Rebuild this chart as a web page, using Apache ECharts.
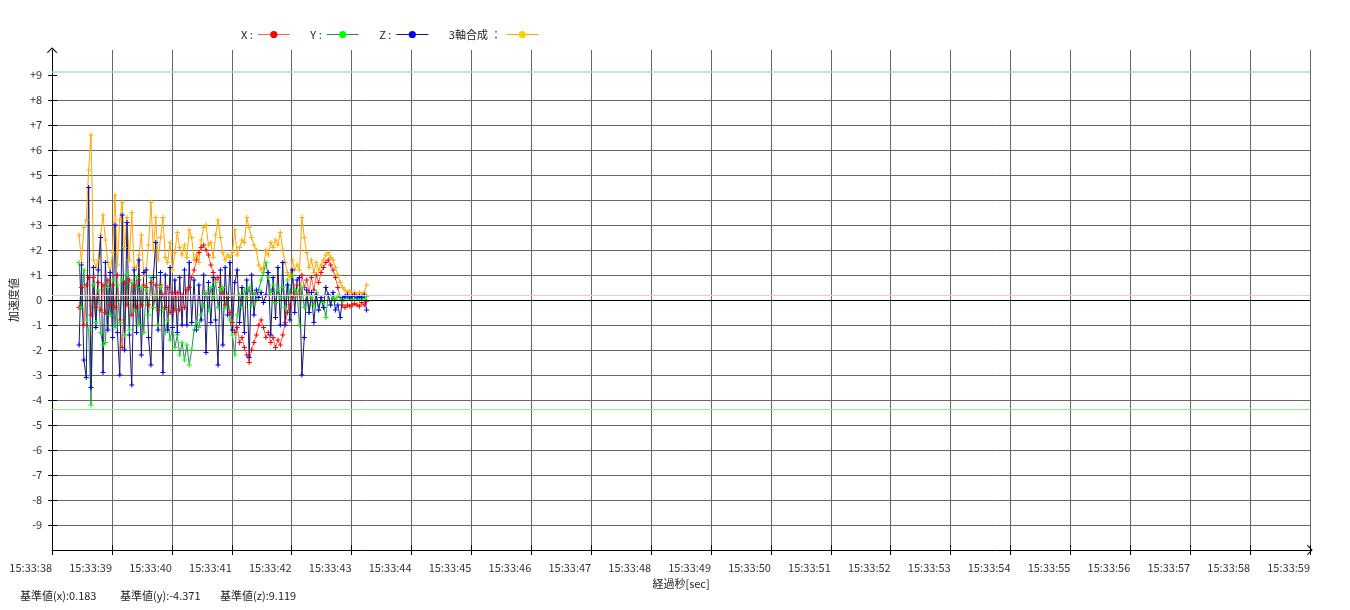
<!DOCTYPE html>
<html>
<head>
<meta charset="utf-8">
<script src="https://cdn.jsdelivr.net/npm/echarts@6/dist/echarts.min.js"></script>
<style>
html,body{margin:0;padding:0;background:#fff;}
#chart{width:1350px;height:610px;}
</style>
</head>
<body>
<div id="chart"></div>
<script>
// ---- data ----
const seriesNames = ['X', 'Y', 'Z', '3軸合成'];
const xTickLabels = ['15:33:38','15:33:39','15:33:40','15:33:41','15:33:42','15:33:43','15:33:44','15:33:45','15:33:46','15:33:47','15:33:48','15:33:49','15:33:50','15:33:51','15:33:52','15:33:53','15:33:54','15:33:55','15:33:56','15:33:57','15:33:58','15:33:59'];
const yTickValues = [-9,-8,-7,-6,-5,-4,-3,-2,-1,0,1,2,3,4,5,6,7,8,9];
const yTickLabels = ['-9','-8','-7','-6','-5','-4','-3','-2','-1','0','+1','+2','+3','+4','+5','+6','+7','+8','+9'];
const startSec = 0.45;   // first sample, seconds after 15:33:38
const sampleStep = 0.04; // seconds between samples
const baseX = 0.183, baseY = -4.371, baseZ = 9.119;

const valuesX = [
 -0.3,0.5,-1.0,0.6,0.9,-0.6,0.9,-0.3,0.7,-0.4,0.6,-0.5,0.8,-0.2,0.6,-0.3,1.0,-0.8,-1.9,0.7,-0.2,0.8,-0.6,0.6,-0.3,0.8,-0.2,0.6,
 0.5,-0.2,0.7,-0.3,0.6,-0.4,0.6,0.2,-0.3,0.5,-0.5,0.3,-0.4,0.3,-0.4,0.2,-0.3,0.4,0.5,0.9,1.2,1.6,1.9,2.1,2.2,2.0,1.8,1.4,1.1,0.8,0.9,0.5,
 0.3,-0.2,0.1,-0.5,-0.9,-1.3,-1.1,-1.7,-1.5,-1.9,-2.2,-2.5,-2.0,-1.7,-1.4,-1.0,-0.8,-1.1,-1.5,-1.3,-1.7,-1.5,-1.9,-1.6,-1.8,-1.4,-0.9,-0.5,-0.2,0.1,0.3,
 0.6,0.2,1.0,0.5,0.8,0.3,0.9,0.4,1.0,0.7,1.1,1.3,1.5,1.6,1.4,1.2,0.9,0.5,0.1,-0.2,-0.3,-0.2,-0.25,-0.2,-0.15,-0.2,-0.25,-0.1,-0.2,-0.05
];
const valuesY = [
 1.5,-0.3,1.2,-0.8,-1.2,-4.2,0.6,-0.9,0.4,-1.3,-1.8,-1.7,0.5,-0.6,0.8,-1.1,0.6,-0.9,0.8,-1.4,1.0,-1.2,0.7,-0.4,0.9,-1.0,0.5,-1.3,
 0.4,-0.6,0.9,-0.3,0.2,-1.0,0.5,-0.4,-1.3,-0.8,-1.6,-1.1,-1.9,-1.4,-2.2,-1.7,-2.4,-1.8,-2.6,-2.0,-1.2,-0.9,-1.1,-0.6,-0.2,0.3,-0.4,0.5,0.1,0.7,-0.3,0.4,
 0.5,-0.3,0.2,-0.8,-1.4,-2.2,-0.6,0.2,-0.3,0.4,0.1,0.5,-0.2,0.3,0.0,0.4,0.8,1.1,1.5,0.9,0.3,0.6,-0.1,0.4,0.1,0.5,-0.3,0.8,0.2,1.0,0.4,
 0.3,-1.0,0.5,-0.3,0.2,-0.5,0.1,-0.2,0.3,-0.4,0.1,-0.1,-0.7,0.2,-0.2,0.1,0.0,0.15,0.1,-0.05,0.1,0.05,0.1,0.0,0.05,0.1,0.0,0.05,0.1,0.15
];
const valuesZ = [
 -1.8,1.4,-2.4,-3.1,4.5,-3.5,1.3,-1.1,1.2,2.5,-2.9,1.5,-1.2,1.1,-1.5,3.0,-1.3,-3.0,3.4,-2.0,3.1,-1.4,-3.4,1.2,-1.3,1.6,-2.2,1.1,
 1.2,-1.5,-2.6,0.9,2.3,-1.2,1.1,-2.9,1.0,-1.2,1.3,-1.1,0.8,-1.3,0.9,-1.0,1.2,-1.0,1.5,-0.9,0.8,-1.2,0.6,-0.8,1.0,-2.1,0.7,-0.9,0.9,-0.8,-2.6,1.2,
 -1.8,1.3,-0.6,1.5,-1.2,0.7,1.2,-0.9,0.5,-1.3,0.8,-2.3,1.0,-0.6,0.4,0.1,0.3,-0.1,0.2,1.1,-1.4,0.9,-0.7,1.3,-1.0,1.5,-1.0,0.6,-0.8,1.2,-0.5,
 0.8,0.9,-3.0,-1.5,0.4,-0.5,0.3,-0.9,0.2,-0.4,0.1,-0.3,0.5,0.2,-0.2,0.3,-0.4,-0.2,-0.7,0.1,0.15,0.2,0.1,0.15,0.2,0.1,0.15,0.1,0.2,-0.4
];
const valuesXYZ = [
 2.6,1.5,2.9,3.2,5.2,6.6,1.6,1.3,1.6,2.6,3.4,2.4,1.5,1.1,1.9,4.2,1.4,3.2,3.9,2.1,3.3,1.6,3.5,1.3,1.3,1.8,2.6,1.0,
 1.2,2.2,3.9,2.0,3.3,1.6,2.5,3.3,1.7,1.5,2.3,1.2,1.9,2.7,2.1,1.8,2.2,1.7,2.8,2.5,1.6,1.8,1.5,2.4,2.9,3.0,2.2,2.3,1.7,2.6,3.2,2.5,
 1.9,1.6,1.8,1.7,1.9,2.8,1.8,2.1,2.4,2.3,3.3,2.9,2.5,2.2,2.0,1.4,1.2,1.3,2.0,1.8,2.3,2.1,2.4,2.2,2.7,2.0,1.5,1.1,0.9,1.6,1.2,
 1.4,1.2,3.3,2.5,1.9,1.3,1.6,1.1,1.5,1.2,1.4,1.6,1.8,1.9,1.7,1.6,1.3,1.0,0.7,0.5,0.4,0.3,0.35,0.25,0.3,0.2,0.3,0.25,0.3,0.6
];

// ---- chart ----
const FONT = '"Noto Sans CJK JP", "Noto Sans", sans-serif';
const PLUS = 'path://M4,0 H6 V4 H10 V6 H6 V10 H4 V6 H0 V4 H4 Z';
const CHEVRON = 'path://M0,10 L10,0 L20,10 L17.5,10 L10,2.8 L2.5,10 Z';

function pairs(vals) {
  return vals.map((v, i) => ({ value: [startSec + i * sampleStep, v], symbol: PLUS, symbolSize: 5 }));
}

function lineSeries(name, vals, lineColor, markColor, extra) {
  return Object.assign({
    name: name,
    type: 'line',
    data: pairs(vals),
    xAxisIndex: 0,
    yAxisIndex: 0,
    symbol: 'circle',
    symbolSize: 5,
    showSymbol: true,
    showAllSymbol: true,
    animation: false,
    lineStyle: { color: lineColor, width: 1 },
    itemStyle: { color: markColor },
    emphasis: { disabled: true }
  }, extra || {});
}

const chart = echarts.init(document.getElementById('chart'), null, { renderer: 'canvas' });

chart.setOption({
  animation: false,
  textStyle: { fontFamily: FONT },
  grid: { left: 50, right: 40, top: 50, bottom: 60, containLabel: false },
  legend: {
    data: [
      { name: 'X' },
      { name: 'Y' },
      { name: 'Z' },
      { name: '3軸合成', itemStyle: { color: '#ffd000' } }
    ],
    left: 236,
    top: 24,
    align: 'right',
    itemWidth: 32,
    itemHeight: 9,
    itemGap: 20,
    lineStyle: { width: 1 },
    formatter: name => name === '3軸合成' ? name + ' ：' : name + ' :',
    textStyle: { fontSize: 11, color: '#222', fontFamily: FONT }
  },
  xAxis: [{
    type: 'value',
    min: 0, max: 21, interval: 1,
    position: 'bottom',
    name: '経過秒[sec]',
    nameLocation: 'middle',
    nameGap: 23,
    nameTextStyle: { fontSize: 11, color: '#222', fontFamily: FONT },
    axisLine: { show: true, onZero: false, lineStyle: { color: '#000', width: 1 }, symbol: ['none', CHEVRON], symbolSize: [11, 6] },
    axisTick: { show: true, inside: false, length: 5, lineStyle: { color: '#000' } },
    axisLabel: {
      fontSize: 11, color: '#333', fontFamily: FONT, margin: 12, align: 'right',
      formatter: (v) => xTickLabels[Math.round(v)]
    },
    splitLine: { show: true, lineStyle: { color: '#666', width: 1 } }
  }, {
    type: 'value',
    min: 0, max: 21, interval: 1,
    position: 'bottom',
    axisLine: { show: false, onZero: false },
    axisTick: { show: true, inside: true, length: 5, lineStyle: { color: '#000' } },
    axisLabel: { show: false },
    splitLine: { show: false }
  }],
  yAxis: [{
    type: 'value',
    min: -10, max: 10, interval: 1,
    name: '加速度値',
    nameLocation: 'middle',
    nameGap: 33,
    nameRotate: 90,
    nameTextStyle: { fontSize: 11, color: '#222', fontFamily: FONT },
    axisLine: { show: true, onZero: false, lineStyle: { color: '#000', width: 1 }, symbol: ['none', CHEVRON], symbolSize: [11, 6] },
    axisTick: { show: true, inside: false, length: 4, customValues: yTickValues, lineStyle: { color: '#000' } },
    axisLabel: {
      fontSize: 11, color: '#333', fontFamily: FONT, margin: 10,
      customValues: yTickValues,
      formatter: (v) => yTickLabels[yTickValues.indexOf(Math.round(v))]
    },
    splitLine: { show: true, showMaxLine: false, lineStyle: { color: '#666', width: 1 } }
  }, {
    type: 'value',
    min: -10, max: 10, interval: 1,
    position: 'left',
    axisLine: { show: false, onZero: false },
    axisTick: { show: true, inside: true, length: 5, customValues: yTickValues, lineStyle: { color: '#000' } },
    axisLabel: { show: false },
    splitLine: { show: false }
  }],
  graphic: [
    { type: 'text', left: 20, top: 590, style: { text: '基準値(x):' + baseX.toFixed(3), font: '11px ' + FONT, fill: '#222' } },
    { type: 'text', left: 120, top: 590, style: { text: '基準値(y):' + baseY.toFixed(3), font: '11px ' + FONT, fill: '#222' } },
    { type: 'text', left: 220, top: 590, style: { text: '基準値(z):' + baseZ.toFixed(3), font: '11px ' + FONT, fill: '#222' } }
  ],
  series: [
    lineSeries('X', valuesX, '#ff6347', '#ff0000', {
      markLine: {
        silent: true,
        symbol: ['none', 'none'],
        label: { show: false },
        animation: false,
        data: [
          { yAxis: 0, lineStyle: { color: '#000', type: 'solid', width: 1 } },
          { yAxis: baseX, lineStyle: { color: '#ffc0cb', type: 'solid', width: 1 } },
          { yAxis: baseY, lineStyle: { color: '#90ee90', type: 'solid', width: 1 } },
          { yAxis: baseZ, lineStyle: { color: '#add8e6', type: 'solid', width: 1.5 } }
        ]
      }
    }),
    lineSeries('Y', valuesY, '#2e8b57', '#00ff00'),
    lineSeries('3軸合成', valuesXYZ, '#ffa500', '#ffb000'),
    lineSeries('Z', valuesZ, '#191970', '#0000ff')
  ]
});
</script>
</body>
</html>
